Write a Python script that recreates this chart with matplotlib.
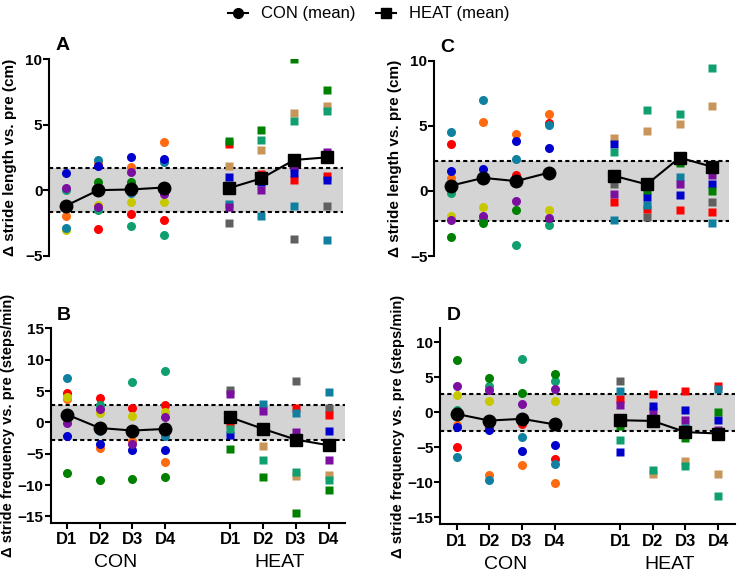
import numpy as np
import matplotlib.pyplot as plt
from matplotlib.lines import Line2D

plt.rcParams['font.family'] = ['Liberation Sans', 'DejaVu Sans']
plt.rcParams['font.weight'] = 'bold'

nan = np.nan
days = ['D1', 'D2', 'D3', 'D4']
con_x = [1, 2, 3, 4]
heat_x = [6, 7, 8, 9]

# subject colours, in drawing order
con_colors = ['#FF0000', '#FF6A10', '#C8C800', '#10A070', '#1080A0', '#0000CD', '#7B0FA0', '#008000']
heat_colors = ['#C8965A', '#606060', '#FF0000', '#1080A0', '#7B0FA0', '#0000CD', '#10A070', '#008000']

# A: stride length (cm)
A_con = [[nan, -3.0, -1.8, -2.25],
         [-2.0, 2.1, 1.8, 3.65],
         [-3.05, -1.1, -0.9, -0.9],
         [0.0, -1.55, -2.7, -3.4],
         [-2.9, 2.3, -0.2, 2.15],
         [1.3, 1.85, 2.5, 2.4],
         [0.2, -1.3, 1.4, -0.3],
         [nan, 0.65, 0.6, 0.3]]
A_heat = [[1.85, 3.05, 5.9, 6.4],
          [-2.5, nan, -3.7, -1.2],
          [3.5, 1.2, 0.75, 1.1],
          [-1.05, -1.95, -1.2, -3.8],
          [-1.3, 0.0, 1.8, 2.9],
          [1.0, 0.6, 1.3, 0.8],
          [nan, 3.85, 5.3, 6.05],
          [3.75, 4.6, 10.0, 7.65]]
A_con_mean = [-1.2, 0.0, 0.05, 0.2]
A_heat_mean = [0.15, 0.9, 2.3, 2.5]
A_band = 1.7

# C: stride length (cm)
C_con = [[3.6, nan, 1.2, 5.25],
         [1.0, 5.3, 4.4, 5.9],
         [-1.9, -1.25, nan, -1.45],
         [-0.15, -2.15, -4.15, -2.65],
         [4.5, 7.0, 2.45, 5.05],
         [1.5, 1.65, 3.85, 3.3],
         [-2.25, -1.95, -0.75, -2.05],
         [-3.55, -2.45, -1.45, nan]]
C_heat = [[4.1, 4.6, 5.15, 6.5],
          [0.55, -2.0, nan, -0.85],
          [-0.85, -1.4, -1.45, -1.65],
          [-2.25, -1.1, 1.1, -2.45],
          [-0.25, nan, 0.55, 1.25],
          [3.6, -0.45, -0.35, 0.55],
          [2.95, 6.2, 5.9, 9.4],
          [nan, 0.1, 2.15, 0.0]]
C_con_mean = [0.4, 1.0, 0.75, 1.4]
C_heat_mean = [1.15, 0.5, 2.55, 1.85]
C_band = 2.3

# B: stride frequency (steps/min)
B_con = [[4.75, 3.85, 2.3, 2.7],
         [3.75, -4.15, -3.0, -6.4],
         [4.1, 1.5, 1.05, 1.6],
         [nan, 2.7, 6.4, 8.15],
         [7.15, -1.45, nan, -2.1],
         [-2.1, -3.4, -4.45, -4.35],
         [-0.1, 2.15, -3.4, 0.85],
         [-8.05, -9.25, -9.0, -8.65]]
B_heat = [[nan, -3.8, -8.5, -8.35],
          [5.2, nan, 6.65, 2.3],
          [-0.1, nan, 2.3, 1.1],
          [nan, 2.9, 1.45, 4.85],
          [4.45, 1.75, -1.5, -6.05],
          [-2.05, nan, nan, -1.45],
          [-1.05, -5.95, -7.95, -9.2],
          [-4.2, -8.7, -14.5, -10.75]]
B_con_mean = [1.25, -0.9, -1.3, -1.05]
B_heat_mean = [0.8, -1.05, -2.75, -3.65]
B_band = 2.8

# D: stride frequency (steps/min)
D_con = [[-5.0, -2.1, -1.75, -6.65],
         [-1.85, -9.05, -7.55, -10.1],
         [2.45, 1.6, nan, 1.65],
         [0.3, 3.7, 7.55, 4.5],
         [-6.45, -9.65, -3.55, -7.4],
         [-2.15, -2.55, -5.55, -4.65],
         [3.7, 3.2, 1.15, 3.35],
         [7.4, 4.9, 2.8, 5.4]]
D_heat = [[nan, -8.85, -7.0, -8.9],
          [4.5, nan, nan, nan],
          [1.95, 2.6, 3.05, 3.8],
          [3.05, nan, -2.2, 3.25],
          [1.05, 0.1, -1.15, -2.5],
          [-5.75, 0.95, 0.35, -1.15],
          [-4.0, -8.3, -7.7, -11.95],
          [-2.0, nan, -3.75, 0.0]]
D_con_mean = [-0.25, -1.2, -0.95, -1.75]
D_heat_mean = [-1.15, -1.25, -2.85, -3.05]
D_band = 2.65

fig = plt.figure(figsize=(7.38, 5.74), dpi=100)


def panel(rect, letter, con, heat, con_mean, heat_mean, band, ylim, yticks, ylabel, bottom):
    ax = fig.add_axes(rect)
    ax.axhspan(-band, band, color='#d4d4d4', zorder=0, lw=0)
    ax.axhline(band, color='k', ls=(0, (2, 1.5)), lw=1.5, zorder=1)
    ax.axhline(-band, color='k', ls=(0, (2, 1.5)), lw=1.5, zorder=1)
    for row, c in zip(con, con_colors):
        ax.plot(con_x, row, 'o', color=c, ms=6.5, mec='none', ls='none', zorder=2)
    for row, c in zip(heat, heat_colors):
        ax.plot(heat_x, row, 's', color=c, ms=6, mec='none', ls='none', zorder=2)
    ax.plot(con_x, con_mean, 'o-', color='k', ms=9, lw=1.5, zorder=3)
    ax.plot(heat_x, heat_mean, 's-', color='k', ms=9, lw=1.5, zorder=3)
    ax.set_xlim(0.5, 9.5)
    ax.set_ylim(*ylim)
    ax.set_yticks(yticks)
    ax.spines['top'].set_visible(False)
    ax.spines['right'].set_visible(False)
    ax.spines['left'].set_linewidth(1.5)
    ax.spines['bottom'].set_linewidth(1.5)
    ax.tick_params(axis='y', direction='out', length=4, width=1.5, labelsize=11, pad=1)
    if bottom:
        ax.set_xticks(con_x + heat_x)
        ax.set_xticklabels(days + days)
        ax.tick_params(axis='x', direction='out', length=4, width=1.5, labelsize=12, pad=3)
        for xc, name in [(2.5, 'CON'), (7.5, 'HEAT')]:
            ax.annotate(name, xy=(xc, 0), xycoords=('data', 'axes fraction'),
                        xytext=(0, -29), textcoords='offset points',
                        ha='center', va='center', fontsize=14, fontweight='normal')
        ax.set_ylabel(ylabel, fontsize=10.5, fontweight='bold')
        ax.yaxis.set_label_coords(-0.12, 0.5)
    else:
        ax.spines['bottom'].set_visible(False)
        ax.set_xticks([])
        ax.set_ylabel(ylabel, fontsize=11, fontweight='bold')
        ax.yaxis.set_label_coords(-0.11, 0.5)
    ax.text(0.045, 1.067, letter, transform=ax.transAxes, fontsize=14,
            fontweight='bold', ha='center', va='center')
    return ax


panel([0.0669, 0.5545, 0.3979, 0.3427], 'A', A_con, A_heat, A_con_mean, A_heat_mean,
      A_band, (-5, 10), [-5, 0, 5, 10], '\u0394 stride length vs. pre (cm)', False)
panel([0.5886, 0.5540, 0.3987, 0.3403], 'C', C_con, C_heat, C_con_mean, C_heat_mean,
      C_band, (-5, 10), [-5, 0, 5, 10], '\u0394 stride length vs. pre (cm)', False)
panel([0.0686, 0.0894, 0.3988, 0.3386], 'B', B_con, B_heat, B_con_mean, B_heat_mean,
      B_band, (-16, 15), [-15, -10, -5, 0, 5, 10, 15],
      '\u0394 stride frequency vs. pre (steps/min)', True)
panel([0.5965, 0.0871, 0.3988, 0.3409], 'D', D_con, D_heat, D_con_mean, D_heat_mean,
      D_band, (-16, 12), [-15, -10, -5, 0, 5, 10],
      '\u0394 stride frequency vs. pre (steps/min)', True)

handles = [Line2D([], [], color='k', marker='o', ms=7, lw=1.5),
           Line2D([], [], color='k', marker='s', ms=7, lw=1.5)]
fig.legend(handles, ['CON (mean)', 'HEAT (mean)'], loc='upper center',
           bbox_to_anchor=(0.5, 1.015), ncol=2, frameon=False, handlelength=1.2,
           handletextpad=0.8, columnspacing=1.2,
           prop={'size': 12, 'weight': 'normal'})

fig.savefig('out.png', dpi=100)
